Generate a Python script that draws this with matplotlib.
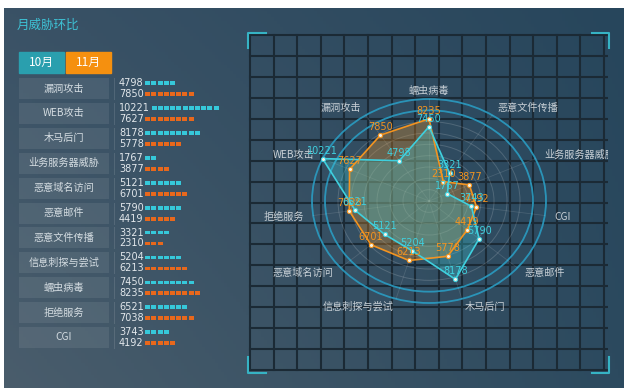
import numpy as np
import matplotlib
matplotlib.use("Agg")
import matplotlib.pyplot as plt
from matplotlib.patches import Rectangle, Ellipse

plt.rcParams['font.family'] = ['Noto Sans CJK SC', 'DejaVu Sans']

# --- data (left panel order) ---
categories = ['漏洞攻击', 'WEB攻击', '木马后门', '业务服务器威胁', '恶意域名访问', '恶意邮件',
              '恶意文件传播', '信息刺探与尝试', '蠕虫病毒', '拒绝服务', 'CGI']
oct_vals = [4798, 10221, 8178, 1767, 5121, 5790, 3321, 5204, 7450, 6521, 3743]
nov_vals = [7850, 7627, 5778, 3877, 6701, 4419, 2310, 6213, 8235, 7038, 4192]
months = ['10月', '11月']
title = '月威胁环比'

# radar axes, clockwise from top
radar_order = ['蠕虫病毒', '恶意文件传播', '业务服务器威胁', 'CGI', '恶意邮件', '木马后门',
               '信息刺探与尝试', '恶意域名访问', '拒绝服务', 'WEB攻击', '漏洞攻击']

C_CYAN = '#3fd0de'
C_ORANGE = '#f39420'
C_SQ_CYAN = '#36c8da'
C_SQ_ORANGE = '#e8681c'

W, H = 624, 388
fig = plt.figure(figsize=(W / 100, H / 100), dpi=100, facecolor='white')
ax = fig.add_axes([0, 0, 1, 1])
ax.set_xlim(0, W)
ax.set_ylim(H, 0)
ax.axis('off')

# background gradient
gx, gy = np.meshgrid(np.linspace(0, 1, 200), np.linspace(0, 1, 120))
tl = np.array([0x3a, 0x52, 0x66]) / 255
tr = np.array([0x27, 0x46, 0x5c]) / 255
bl = np.array([0x4a, 0x5d, 0x6c]) / 255
br = np.array([0x2c, 0x4a, 0x5f]) / 255
gx3, gy3 = gx[..., None], gy[..., None]
grad = (tl * (1 - gx3) * (1 - gy3) + tr * gx3 * (1 - gy3)
        + bl * (1 - gx3) * gy3 + br * gx3 * gy3)
ax.imshow(grad, extent=(4, W, H, 8), aspect='auto', zorder=0)

# --- left panel ---
ax.text(17, 25, title, color='#3ec3d6', fontsize=9, ha='left', va='center')

tab_colors = ['#2a9fae', '#f5900f']
for i, (m, c) in enumerate(zip(months, tab_colors)):
    x0 = 19 + i * 47
    ax.add_patch(Rectangle((x0, 52), 45, 21, color=c, zorder=2))
    ax.text(x0 + 22.5, 62.5, m, color='white', fontsize=8.5, ha='center', va='center', zorder=3)

pitch = 24.9
for i, cat in enumerate(categories):
    top = 78 + i * pitch
    yc = top + 10.5
    ax.add_patch(Rectangle((19, top), 90, 21, color='white', alpha=0.08, lw=0, zorder=2))
    ax.text(64, yc, cat, color='#d5dde2', fontsize=7.3, ha='center', va='center', zorder=3)
    ax.plot([114, 114], [top, top + 21], color='white', alpha=0.12, lw=0.7, zorder=2)
    for v, dy, sc in ((oct_vals[i], -5.3, C_SQ_CYAN), (nov_vals[i], 5.6, C_SQ_ORANGE)):
        s = str(v)
        ax.text(119, yc + dy, s, color='#e2e7eb', fontsize=7, family='DejaVu Sans',
                ha='left', va='center', zorder=3)
        n = int(np.ceil(v / 1000))
        x_start = 119 + len(s) * 6.3 + 1.0
        xs = x_start + np.arange(n) * 6.2
        ax.bar(xs, 3.8, width=5.0, bottom=yc + dy - 1.9, align='edge', color=sc, lw=0, zorder=3)

# --- radar panel ---
rax = fig.add_axes([248 / W, 1 - 376 / H, (608 - 248) / W, (376 - 30) / H])
rax.set_xlim(248, 608)
rax.set_ylim(376, 30)
rax.axis('off')

# grid of squares
gx0, gx1, gy0, gy1 = 250, 604, 35, 370
for k in range(16):
    x = gx0 + (gx1 - gx0) * k / 15
    rax.plot([x, x], [gy0, gy1], color='#1b2a35', lw=1.5, zorder=1)
for k in range(17):
    y = gy0 + (gy1 - gy0) * k / 16
    rax.plot([gx0, 607], [y, y], color='#1b2a35', lw=1.5, zorder=1)

# corner brackets
bc = '#36b3c4'
for xs, ys in (([248, 248, 266], [48, 33, 33]), ([592, 609, 609], [33, 33, 48]),
               ([609, 609, 592], [357, 373, 373]), ([248, 248, 266], [357, 373, 373])):
    rax.plot(xs, ys, color=bc, lw=1.5, zorder=2, clip_on=False)

cx, cy, a, b = 429, 201, 117, 102
n_ax = len(radar_order)
theta = 2 * np.pi * np.arange(n_ax) / n_ax
rmax = max(max(oct_vals), max(nov_vals))

for k in range(1, 10):
    if k >= 8:
        rax.add_patch(Ellipse((cx, cy), 2 * a * k / 9, 2 * b * k / 9, fill=False,
                              ec='#2a9cc2', lw=1.3, alpha=0.9, zorder=2))
    else:
        rax.add_patch(Ellipse((cx, cy), 2 * a * k / 9, 2 * b * k / 9, fill=False,
                              ec='white', lw=0.7, alpha=0.16, zorder=2))
for t in theta:
    rax.plot([cx, cx + a * np.sin(t)], [cy, cy - b * np.cos(t)], color='white',
             alpha=0.12, lw=0.6, zorder=2)

for name, t in zip(radar_order, theta):
    s, c = np.sin(t), np.cos(t)
    ha = 'left' if s > 0.1 else ('right' if s < -0.1 else 'center')
    rax.text(cx + 1.08 * a * s, cy - 1.08 * b * c, name, color='#c8d0d6', fontsize=7.3,
             ha=ha, va='center', zorder=5, clip_on=True)

for vals, col in ((nov_vals, C_ORANGE), (oct_vals, C_CYAN)):
    r = np.array([vals[categories.index(nm)] for nm in radar_order]) / rmax
    px = cx + a * r * np.sin(theta)
    py = cy - b * r * np.cos(theta)
    rax.fill(px, py, color=col, alpha=0.3, lw=0, zorder=3)
    rax.plot(np.append(px, px[0]), np.append(py, py[0]), color=col, lw=1.2, zorder=4)
    rax.plot(px, py, 'o', ms=3, mfc='#f4f4e8', mec=col, mew=0.8, zorder=5)
    for x, y, nm in zip(px, py, radar_order):
        v = vals[categories.index(nm)]
        rax.text(x, y - 8, str(v), color=col, fontsize=7, family='DejaVu Sans',
                 ha='center', va='center', zorder=6)

fig.savefig('out.png', dpi=100, facecolor='white')
